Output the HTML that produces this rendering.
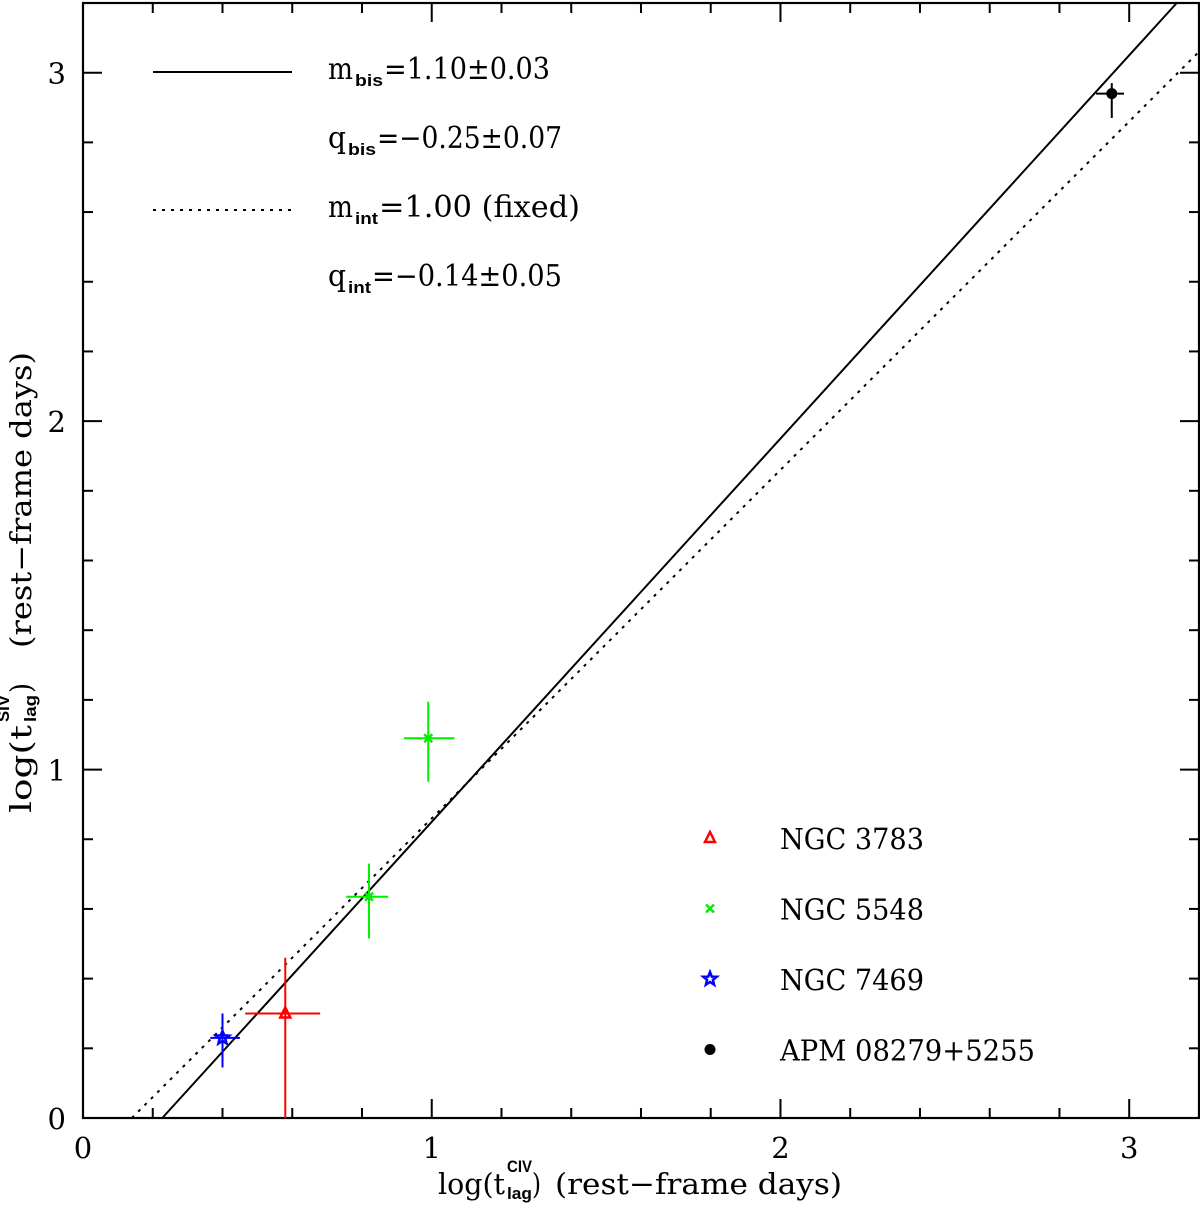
<!DOCTYPE html>
<html><head><meta charset="utf-8"><style>
html,body{margin:0;padding:0;background:#fff;}
svg{display:block;font-family:"DejaVu Serif","Liberation Serif",serif;}
</style></head><body>
<svg id="chart" width="1200" height="1206" viewBox="0 0 1200 1206" xmlns="http://www.w3.org/2000/svg">
<g id="axes"></g>
<g id="fits"></g>
<g id="points"></g>
<g id="legend"></g>
<g font-size="29">
  <text x="438" y="1194" textLength="67" lengthAdjust="spacingAndGlyphs">log(t</text>
  <text x="507" y="1172" font-family="Liberation Sans" font-weight="bold" font-size="17" textLength="25" lengthAdjust="spacingAndGlyphs">CIV</text>
  <text x="507" y="1199" font-family="Liberation Sans" font-weight="bold" font-size="17" textLength="25" lengthAdjust="spacingAndGlyphs">lag</text>
  <text x="532" y="1194" textLength="9" lengthAdjust="spacingAndGlyphs">)</text>
  <text x="555" y="1194" textLength="287" lengthAdjust="spacingAndGlyphs">(rest−frame days)</text>
</g>
<g font-size="29" transform="translate(31,813) rotate(-90)">
  <text x="0" y="0" textLength="88" lengthAdjust="spacingAndGlyphs">log(t</text>
  <text x="91" y="-22" font-family="Liberation Sans" font-weight="bold" font-size="17" textLength="27" lengthAdjust="spacingAndGlyphs">SIV</text>
  <text x="91" y="5" font-family="Liberation Sans" font-weight="bold" font-size="17" textLength="27" lengthAdjust="spacingAndGlyphs">lag</text>
  <text x="120" y="0" textLength="10" lengthAdjust="spacingAndGlyphs">)</text>
  <text x="165" y="0" textLength="296" lengthAdjust="spacingAndGlyphs">(rest−frame days)</text>
</g>
</svg>
<script>
const xTicks=[0,1,2,3];
const yTicks=[0,1,2,3];
const names=["NGC 3783","NGC 5548","NGC 5548","NGC 7469","APM 08279+5255"];
const xs=[0.58,0.82,0.99,0.40,2.95];
const ys=[0.30,0.635,1.09,0.23,2.94];
const xLo=[0.115,0.065,0.07,0.035,0.045];
const xHi=[0.10,0.055,0.075,0.05,0.035];
const yLo=[0.40,0.12,0.125,0.085,0.07];
const yHi=[0.16,0.095,0.105,0.07,0.03];
const colors=["#ff0000","#00ee00","#00ee00","#0000ff","#000000"];
const fitSlopes=[1.10,1.00];
const fitIntercepts=[-0.25,-0.14];
const legendNames=["NGC 3783","NGC 5548","NGC 7469","APM 08279+5255"];
const legendColors=["#ff0000","#00ee00","#0000ff","#000000"];
const legendMarkers=["tri","x","star","dot"];
const markers=["tri","x","x","star","dot"];

const X0=83,X1=1200,Y0=1118,Y1=3;
const xmin=0,xmax=3.203,ymin=0,ymax=3.2;
const sx=v=>X0+(v-xmin)/(xmax-xmin)*(X1-X0);
const sy=v=>Y0-(v-ymin)/(ymax-ymin)*(Y0-Y1);
const NS="http://www.w3.org/2000/svg";
function mk(tag,attrs,parent){const e=document.createElementNS(NS,tag);for(const k in attrs)e.setAttribute(k,attrs[k]);parent.appendChild(e);return e;}
const axes=document.getElementById('axes');
const frame=mk('rect',{x:X0,y:Y1,width:X1-X0-1,height:Y0-Y1,fill:'none',stroke:'#000','stroke-width':2.2},axes);


for(let v=0;v<=3.2001;v+=0.2){
  const major=Math.abs(v-Math.round(v))<1e-6;const L=major?19:10;
  const px=sx(v);
  const t1=mk('line',{x1:px,y1:Y0,x2:px,y2:Y0-L,stroke:'#000','stroke-width':2},axes);
  
  
  const t2=mk('line',{x1:px,y1:Y1,x2:px,y2:Y1+L,stroke:'#000','stroke-width':2},axes);
  
  
  const py=sy(v);
  const t3=mk('line',{x1:X0,y1:py,x2:X0+L,y2:py,stroke:'#000','stroke-width':2},axes);
  
  
  const t4=mk('line',{x1:X1-1,y1:py,x2:X1-1-L,y2:py,stroke:'#000','stroke-width':2},axes);
  
  
}
xTicks.forEach(v=>{const t=mk('text',{x:sx(v),y:Y0+40,'text-anchor':'middle','font-size':29},axes);t.textContent=String(v);
  
  });
yTicks.forEach(v=>{const t=mk('text',{x:X0-17,y:sy(v)+11,'text-anchor':'end','font-size':29},axes);t.textContent=String(v);
  
  });

const fits=document.getElementById('fits');
fitSlopes.forEach((m,i)=>{
  const q=fitIntercepts[i];
  let xa=(ymin-q)/m, xb=xmax; let yb=m*xb+q; if(yb>ymax){xb=(ymax-q)/m;yb=ymax;}
  const l=mk('line',{x1:sx(xa),y1:sy(ymin),x2:sx(xb),y2:sy(yb),stroke:'#000','stroke-width':2,'stroke-dasharray':i?'3,6':'none'},fits);
  
  
});

function marker(type,cx,cy,c,parent){
  let e;
  if(type==='tri') e=mk('polygon',{points:`${cx},${cy-6} ${cx-5},${cy+4} ${cx+5},${cy+4}`,fill:'none',stroke:c,'stroke-width':2.5},parent);
  else if(type==='x') e=mk('path',{d:`M${cx-4},${cy-4}L${cx+4},${cy+4}M${cx-4},${cy+4}L${cx+4},${cy-4}`,stroke:c,'stroke-width':2.5},parent);
  else if(type==='star'){let p=[];for(let k=0;k<10;k++){const r=k%2?3:7,a=-Math.PI/2+k*Math.PI/5;p.push((cx+r*Math.cos(a)).toFixed(1)+','+(cy+r*Math.sin(a)).toFixed(1));}
    e=mk('polygon',{points:p.join(' '),fill:'none',stroke:c,'stroke-width':2.5},parent);}
  else e=mk('circle',{cx:cx,cy:cy,r:5.5,fill:c},parent);
  return e;
}
const pts=document.getElementById('points');
xs.forEach((x,i)=>{
  const g=mk('g',{},pts);
  
  
  const c=colors[i];
  const ylow=Math.max(ys[i]-yLo[i],ymin);
  mk('line',{x1:sx(x-xLo[i]),y1:sy(ys[i]),x2:sx(x+xHi[i]),y2:sy(ys[i]),stroke:c,'stroke-width':2},g);
  mk('line',{x1:sx(x),y1:sy(ylow),x2:sx(x),y2:sy(ys[i]+yHi[i]),stroke:c,'stroke-width':2},g);
  marker(markers[i],sx(x),sy(ys[i]),c,g);
});

const leg=document.getElementById('legend');
const fitLeg=[["m",25,"bis",28,"=1.10±0.03",550,0],["q",18,"bis",28,"=−0.25±0.07",562,-1],["m",25,"int",23,"=1.00 (fixed)",580,1],["q",18,"int",23,"=−0.14±0.05",562,-1]];
fitLeg.forEach((f,i)=>{
  const y=79+i*69;
  if(f[6]>=0){const l=mk('line',{x1:153,y1:y-7,x2:292,y2:y-7,stroke:'#000','stroke-width':2,'stroke-dasharray':f[6]?'3,6':'none'},leg);
    
    }
  const g=mk('g',{},leg);
  
  
  let x=328;
  const a=mk('text',{x:x,y:y,'font-size':30,textLength:f[1],lengthAdjust:'spacingAndGlyphs'},g);a.textContent=f[0];
  x+=f[1]+2;
  const b=mk('text',{x:x,y:y+7,'font-size':17,'font-family':'Liberation Sans','font-weight':'bold',textLength:f[3],lengthAdjust:'spacingAndGlyphs'},g);b.textContent=f[2];
  x+=f[3]+1;
  const c=mk('text',{x:x,y:y,'font-size':30,textLength:f[5]-x,lengthAdjust:'spacingAndGlyphs'},g);c.textContent=f[4];
});
const legendEnds=[924,924,924,1035];
legendNames.forEach((n,i)=>{
  const y=838+i*70.5;
  const g=mk('g',{},leg);
  
  
  marker(legendMarkers[i],710,y,legendColors[i],g);
  const t=mk('text',{x:780,y:y+11,'font-size':29,textLength:legendEnds[i]-780,lengthAdjust:'spacingAndGlyphs'},g);t.textContent=n;
});
</script>
</body></html>
